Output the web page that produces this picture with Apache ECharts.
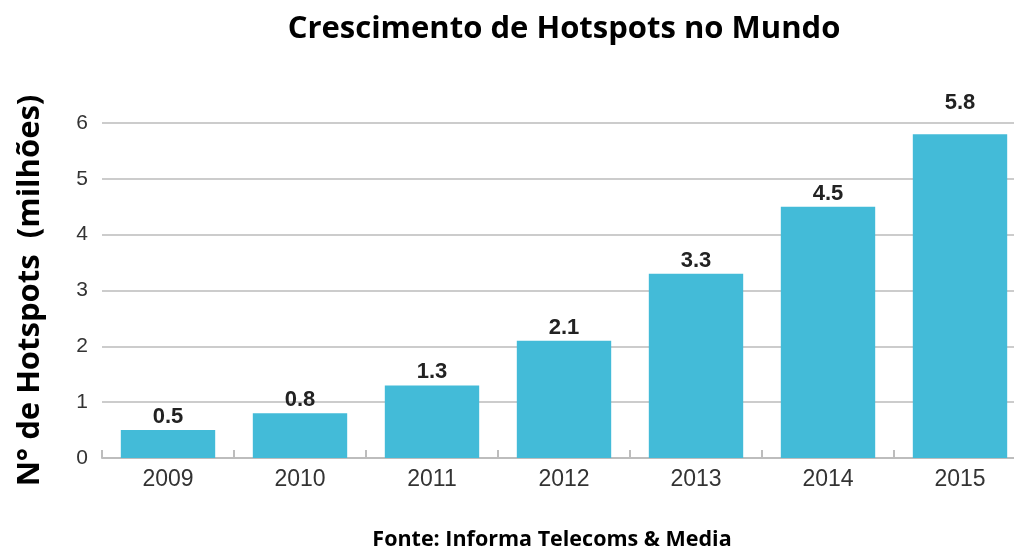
<!DOCTYPE html>
<html>
<head>
<meta charset="utf-8">
<script src="https://cdn.jsdelivr.net/npm/echarts@6/dist/echarts.min.js"></script>
<style>
  html, body { margin: 0; padding: 0; background: #fff; }
  #chart { width: 1014px; height: 550px; }
</style>
</head>
<body>
<div id="chart"></div>
<script>
// Hotspots worldwide, in millions
const years = ['2009', '2010', '2011', '2012', '2013', '2014', '2015'];
const hotspots = [0.5, 0.8, 1.3, 2.1, 3.3, 4.5, 5.8];
const yTicks = [0, 1, 2, 3, 4, 5, 6];

// the tallest bar's label is lifted clear of the top gridline
const barData = hotspots.map((v, i) =>
  i === hotspots.length - 1 ? { value: v, label: { distance: 20 } } : v);

const chart = echarts.init(document.getElementById('chart'));
chart.setOption({
  backgroundColor: '#ffffff',
  animation: false,
  title: [{
    text: 'Crescimento de Hotspots no Mundo',
    left: 559, top: 9, textAlign: 'center',
    textStyle: { fontFamily: 'Open Sans', fontWeight: 'bold', fontSize: 31, color: '#000' }
  }, {
    text: 'Fonte: Informa Telecoms & Media',
    left: 547, top: 524, textAlign: 'center',
    textStyle: { fontFamily: 'Open Sans', fontWeight: 'bold', fontSize: 21.5, color: '#000' }
  }],
  // plot area runs slightly past the right edge of the canvas
  grid: { left: 102, width: 924, top: 123, bottom: 92, outerBoundsMode: 'none' },
  xAxis: {
    type: 'category',
    data: years,
    boundaryGap: true,
    axisLine: { lineStyle: { color: '#bdbdbd', width: 2 } },
    axisTick: { show: true, inside: true, length: 8, lineStyle: { color: '#bdbdbd', width: 2 } },
    axisLabel: { margin: 10, fontFamily: 'Liberation Sans', fontSize: 23, color: '#333' }
  },
  yAxis: {
    type: 'value',
    min: yTicks[0], max: yTicks[yTicks.length - 1], interval: 1,
    name: 'N° de Hotspots  (milhões)',
    nameLocation: 'middle', nameRotate: 90, nameGap: 56,
    nameTextStyle: { fontFamily: 'Open Sans', fontWeight: 'bold', fontSize: 31, color: '#000' },
    axisLine: { show: false },
    axisTick: { show: false },
    axisLabel: { margin: 14, fontFamily: 'Liberation Sans', fontSize: 21, color: '#333' },
    splitLine: { lineStyle: { color: '#cccccc', width: 2 } }
  },
  series: [{
    type: 'bar',
    data: barData,
    barCategoryGap: '28.5%',
    itemStyle: { color: '#43bbd8' },
    label: {
      show: true, position: 'top', distance: 2,
      fontFamily: 'Liberation Sans', fontWeight: 'bold', fontSize: 22, color: '#222',
      formatter: p => p.value.toFixed(1)
    }
  }]
});
</script>
</body>
</html>
